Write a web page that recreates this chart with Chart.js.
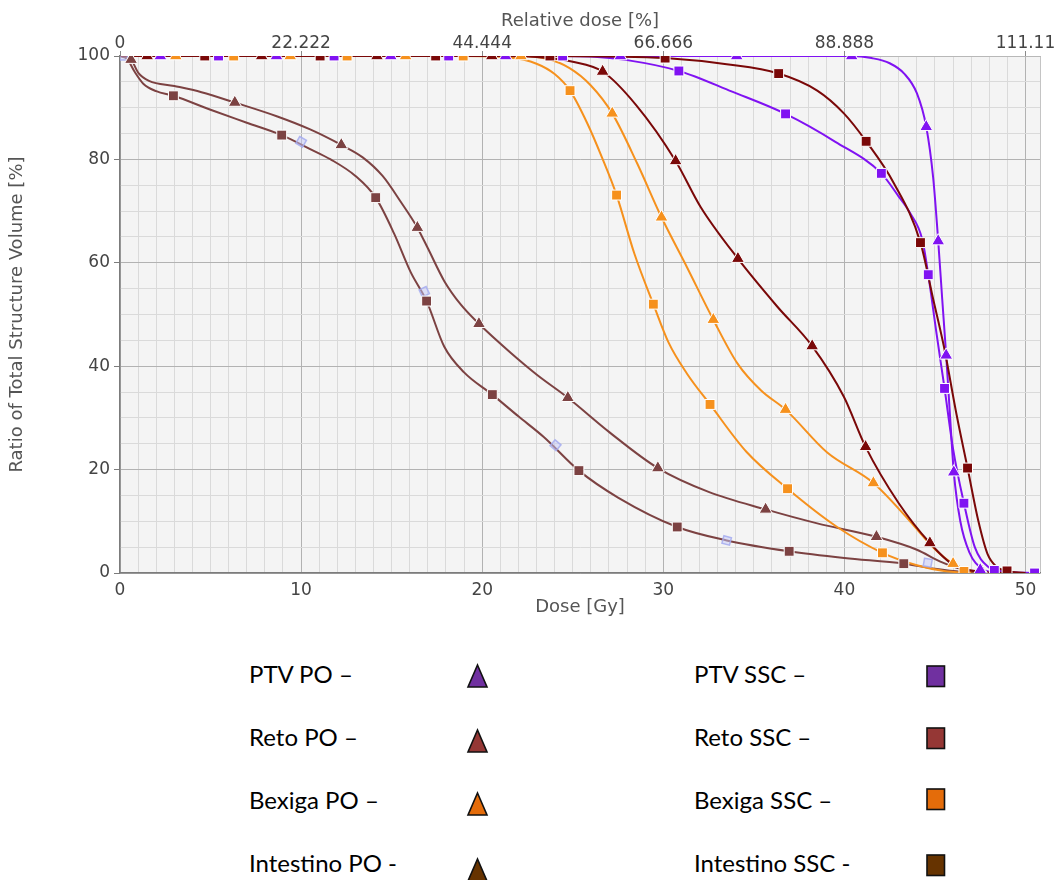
<!DOCTYPE html>
<html><head><meta charset="utf-8">
<script src="https://cdn.jsdelivr.net/npm/chart.js@4.4.1/dist/chart.umd.min.js"></script>
<style>
html,body{margin:0;padding:0;background:#fff;width:1056px;height:880px;overflow:hidden;position:relative;}
#wrap{position:absolute;left:0;top:0;width:1056px;height:640px;}
.lg{position:absolute;font-family:Lato,"Open Sans",sans-serif;font-size:24px;line-height:24px;color:#000;white-space:nowrap;}
.sym{position:absolute;overflow:visible;}
</style></head><body>
<div id="wrap"><canvas id="c" width="1056" height="640"></canvas></div>
<div id="legend"></div>
<script>
// ---------- data (dose [Gy], volume [%]) ----------
const ptvPoCurve = [[0,100],[40.4,100],[41.5,99.6],[42.5,98.6],[43.3,96.6],[44.0,92.8],[44.52,86.3],[44.9,76.5],[45.18,64.2],[45.4,53],[45.62,42.1],[45.83,30.5],[46.04,19.5],[46.4,10],[46.9,4],[47.6,0.8],[48.3,0.1],[49,0]];
const ptvPoMarks = [[2.23,100],[8.64,100],[14.95,100],[21.29,100],[27.63,100],[34.05,100],[40.4,100],[44.52,86.3],[45.18,64.2],[45.62,42.1],[46.04,19.5],[47.5,0.6]];

const ptvSscCurve = [[0,100],[24.44,100],[26,99.9],[28,99.2],[30.86,97.1],[33.8,93.1],[36.75,88.8],[39.5,83.4],[42.04,77.3],[43.0,72.8],[43.65,69.5],[44.3,64.5],[44.63,57.7],[45.1,46],[45.53,35.7],[46.0,24],[46.6,13.5],[47.2,5],[47.9,1.3],[48.8,0.3],[50.5,0]];
const ptvSscMarks = [[5.44,100],[11.82,100],[18.15,100],[24.44,100],[30.86,97.1],[36.75,88.8],[42.04,77.3],[44.63,57.7],[45.53,35.7],[46.6,13.5],[48.28,0.5],[50.5,0]];

const retoPoCurve = [[0,100],[0.61,99.3],[1.0,96.8],[1.6,95.2],[3,94.2],[4.5,93],[6.34,91.0],[8.69,88.3],[10.5,85.8],[12.22,82.8],[13.4,80.4],[14.5,76.8],[15.5,71.8],[16.42,66.8],[17.0,62.8],[17.9,56.5],[18.8,52],[19.82,48.2],[21.6,42.5],[23,38.4],[24.73,33.9],[27,27.3],[29.7,20.3],[32.5,15.7],[35.65,12.3],[38.5,9.6],[41.77,7.0],[44,4.5],[45.3,2.2],[46.5,0.7],[47.6,0.3],[49,0]];
const retoPoMarks = [[0.61,99.3],[6.34,91.0],[12.22,82.8],[16.42,66.8],[19.82,48.2],[24.73,33.9],[29.7,20.3],[35.65,12.3],[41.77,7.0],[47.6,0.3]];

const retoSscCurve = [[0,100],[0.4,99.4],[0.8,97],[1.3,94.6],[2.0,93.2],[2.95,92.3],[5,89.6],[7,87.1],[8.93,84.7],[10.5,82],[11.63,80],[13,76.8],[14.12,72.6],[15.13,65.7],[16.05,58.2],[16.93,52.6],[17.9,43.8],[19,38.8],[20.56,34.5],[22,30.3],[23.4,26.3],[25.34,19.8],[27.5,14.6],[30.77,8.9],[33.5,6.3],[36.95,4.2],[40,2.9],[43.28,1.8],[45,0.8],[46.5,0.2],[48,0]];
const retoSscMarks = [[2.95,92.3],[8.93,84.7],[14.12,72.6],[16.93,52.6],[20.56,34.5],[25.34,19.8],[30.77,8.9],[36.95,4.2],[43.28,1.8]];

const bexPoCurve = [[0,100],[22.14,100],[23.5,99.5],[24.8,97.7],[26,94.3],[27.18,88.9],[28.56,79.2],[29.9,68.8],[31.3,59.2],[32.76,49.0],[34.1,40.5],[35.4,35.3],[36.75,31.6],[39.05,23.3],[41.6,17.4],[43.5,10.5],[45,4.6],[46.0,1.8],[47,0.4],[48.5,0]];
const bexPoMarks = [[3.08,100],[9.4,100],[15.77,100],[22.14,100],[27.18,88.9],[29.9,68.8],[32.76,49.0],[36.75,31.6],[41.6,17.4],[46.0,1.8]];

const bexSscCurve = [[0,100],[18.95,100],[21.5,99.7],[23,98.5],[24.0,96.5],[24.85,93.3],[25.8,87],[26.6,80.5],[27.42,73.1],[28.4,61.8],[29.45,52.0],[30.3,44.5],[31.3,38.6],[32.58,32.6],[34.6,23.4],[36.86,16.3],[39.6,8.9],[42.1,3.9],[44,1.5],[45.5,0.4],[47,0]];
const bexSscMarks = [[6.28,100],[12.54,100],[18.95,100],[24.85,93.3],[27.42,73.1],[29.45,52.0],[32.58,32.6],[36.86,16.3],[42.1,3.9],[46.6,0.3]];

const intPoCurve = [[0,100],[20.53,100],[23,99.8],[25,98.9],[26.65,97],[28.5,90.5],[30.68,79.7],[32.06,70.8],[34.12,60.8],[36.3,51.5],[38.22,43.9],[39.97,34.1],[41.17,24.4],[43,13.5],[44.72,5.8],[46,1.6],[47.5,0.2],[49,0]];
const intPoMarks = [[1.5,100],[7.82,100],[14.19,100],[20.53,100],[26.65,97],[30.68,79.7],[34.12,60.8],[38.22,43.9],[41.17,24.4],[44.72,5.8]];

const intSscCurve = [[0,100],[23.74,100],[27,99.9],[30.1,99.6],[33.5,98.4],[36.37,96.6],[38.5,93.3],[39.97,88.9],[41.2,83.5],[42.73,75.4],[44.2,63.9],[44.9,53],[45.5,43.7],[46.2,30.5],[46.8,20.3],[47.4,10],[47.9,3.7],[48.4,1.2],[48.98,0.4],[50,0]];
const intSscMarks = [[4.68,100],[11.05,100],[17.43,100],[23.74,100],[30.1,99.6],[36.37,96.6],[41.2,83.5],[44.2,63.9],[46.8,20.3],[48.98,0.4]];

const ghostMarks = [[0.2,100],[10.0,83.4],[16.8,54.4],[24.05,24.7],[33.5,6.3],[44.6,2.0]];
const ghostAngles = [0,30,65,40,15,10];

const prescriptionDose = 45;       // Gy = 100 %
const doseMax = 50.8;
const doseLabelStep = 10;
const relTickValues = [0,22.222,44.444,66.666,88.888,111.11];
const relTickLabels = ['0','22.222','44.444','66.666','88.888','111.11'];

const legendLeft = ['PTV PO \u2013','Reto PO \u2013','Bexiga PO \u2013','Intestino PO -'];
const legendRight = ['PTV SSC \u2013','Reto SSC \u2013','Bexiga SSC \u2013','Intestino SSC -'];
const legendColors = ['#7030A0','#953735','#E46C0A','#663300'];

// ---------- styles ----------
const C = {int:'#7a0808', reto:'#7c4242', bex:'#f6911d', ptv:'#8012f2'};
const pts = a => a.map(([x,y]) => ({x,y}));
function lineDs(curve, color){
  return {data:pts(curve), borderColor:color, borderWidth:2, pointRadius:0, pointHoverRadius:0,
    fill:false, cubicInterpolationMode:'monotone', order:2};
}
function markDs(marks, color, style){
  return {data:pts(marks), showLine:false, pointStyle:style, pointRadius: style==='triangle'?7.5:7,
    pointBackgroundColor:color, pointBorderColor:'#ffffff', pointBorderWidth:1, borderColor:color, order:0};
}

const datasets = [
  markDs(intPoMarks, C.int, 'triangle'),
  markDs(intSscMarks, C.int, 'rect'),
  markDs(ptvPoMarks, C.ptv, 'triangle'),
  markDs(ptvSscMarks, C.ptv, 'rect'),
  markDs(bexPoMarks, C.bex, 'triangle'),
  markDs(bexSscMarks, C.bex, 'rect'),
  markDs(retoPoMarks, C.reto, 'triangle'),
  markDs(retoSscMarks, C.reto, 'rect'),
  {data:pts(ghostMarks), showLine:false, pointStyle:'rect', pointRadius:5.5, rotation:ghostAngles,
   pointBackgroundColor:'rgba(195,200,248,0.5)', pointBorderColor:'rgba(165,172,240,0.85)', pointBorderWidth:1.5, order:1},
  lineDs(intPoCurve, C.int),
  lineDs(intSscCurve, C.int),
  lineDs(ptvPoCurve, C.ptv),
  lineDs(ptvSscCurve, C.ptv),
  lineDs(bexPoCurve, C.bex),
  lineDs(bexSscCurve, C.bex),
  lineDs(retoPoCurve, C.reto),
  lineDs(retoSscCurve, C.reto)
];

const bgPlugin = {id:'bg', beforeDraw(chart){
  const {ctx, chartArea:a} = chart;
  ctx.save(); ctx.fillStyle = '#f4f4f4';
  ctx.fillRect(a.left, a.top, a.right-a.left, a.bottom-a.top); ctx.restore();
}};

const tickFont = {family:'DejaVu Sans', size:17};
const titleFont = {family:'DejaVu Sans', size:18};
const isMult = (v, m) => Math.abs(v - Math.round(v / m) * m) < 1e-6;

new Chart(document.getElementById('c'), {
  type:'line',
  data:{datasets},
  plugins:[bgPlugin],
  options:{
    responsive:false, animation:false, devicePixelRatio:1,
    layout:{padding:{left:0,right:16,top:0,bottom:0}},
    plugins:{legend:{display:false}, tooltip:{enabled:false}},
    scales:{
      x:{type:'linear', position:'bottom', min:0, max:doseMax,
        afterFit(s){ s.height = 67; },
        afterBuildTicks(s){
          const t = [];
          for (let v = 0; v <= Math.floor(doseMax); v++) t.push({value:v});
          t.push({value:doseMax});
          s.ticks = t;
        },
        ticks:{autoSkip:false, maxRotation:0, minRotation:0, padding:7, color:'#444', font:tickFont,
          callback:v => (isMult(v,doseLabelStep) ? String(Math.round(v)) : '')},
        grid:{drawTicks:false, lineWidth:1,
          color:c => { const v = c.tick ? c.tick.value : 0;
            if (Math.abs(v - doseMax) < 1e-6) return '#c4c4c4';
            return isMult(v,doseLabelStep) ? '#b2b2b2' : '#dadada'; }},
        border:{color:'#7c7c7c', width:1.5},
        title:{display:true, text:'Dose [Gy]', color:'#555', font:titleFont, padding:{top:0,bottom:22}}
      },
      x2:{type:'linear', position:'top', min:0, max:doseMax/prescriptionDose*100,
        afterFit(s){ s.height = 56; },
        afterBuildTicks(s){ s.ticks = relTickValues.map(v => ({value:v})); },
        ticks:{autoSkip:false, maxRotation:0, minRotation:0, padding:-3, color:'#444', font:tickFont,
          callback:(v,i) => relTickLabels[i]},
        grid:{drawOnChartArea:false, tickLength:5, tickColor:'#8a8a8a'},
        border:{color:'#b8b8b8', width:1},
        title:{display:true, text:'Relative dose [%]', color:'#555', font:titleFont, padding:{top:11,bottom:0}}
      },
      y:{type:'linear', position:'left', min:0, max:100,
        afterFit(s){ s.width = 120; },
        ticks:{stepSize:5, autoSkip:false, padding:4, color:'#444', font:tickFont,
          callback:v => (isMult(v,20) ? String(Math.round(v)) : '')},
        grid:{lineWidth:1, tickLength:6,
          color:c => (c.tick && isMult(c.tick.value,20) ? '#b2b2b2' : '#dadada'),
          tickColor:c => (c.tick && isMult(c.tick.value,20) ? '#7c7c7c' : 'rgba(0,0,0,0)')},
        border:{color:'#7c7c7c', width:1.5},
        title:{display:true, text:'Ratio of Total Structure Volume [%]', color:'#555', font:titleFont, padding:{top:7,bottom:0}}
      }
    }
  }
});

// ---------- legend (HTML) ----------
const lg = document.getElementById('legend');
const rowBase = [683,746,809,872];
const triTop = [665,730,793,859];
const sqTop = [666,728,789,855];
function addText(txt, left, base){
  const d = document.createElement('div'); d.className = 'lg'; d.textContent = txt;
  d.style.left = left + 'px'; d.style.top = (base - 21) + 'px'; lg.appendChild(d);
}
const NS = 'http://www.w3.org/2000/svg';
function addSym(kind, color, left, top){
  const s = document.createElementNS(NS,'svg'); s.setAttribute('class','sym');
  s.setAttribute('width','24'); s.setAttribute('height','26');
  s.style.left = left + 'px'; s.style.top = top + 'px';
  let p;
  if (kind === 'tri'){ p = document.createElementNS(NS,'polygon'); p.setAttribute('points','10.5,1 20,23 1,23'); }
  else { p = document.createElementNS(NS,'rect'); p.setAttribute('x','1'); p.setAttribute('y','1'); p.setAttribute('width','17.5'); p.setAttribute('height','20.5'); }
  p.setAttribute('fill', color); p.setAttribute('stroke','#111'); p.setAttribute('stroke-width','1.6');
  s.appendChild(p); lg.appendChild(s);
}
for (let i = 0; i < 4; i++){
  addText(legendLeft[i], 249, rowBase[i]);
  addText(legendRight[i], 694, rowBase[i]);
  addSym('tri', legendColors[i], 467, triTop[i]-1);
  addSym('sq', legendColors[i], 926, sqTop[i]-1);
}
</script>
</body></html>
